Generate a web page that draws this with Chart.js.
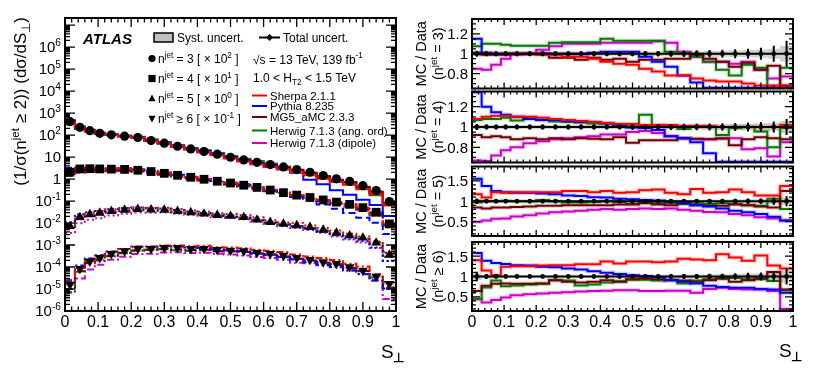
<!DOCTYPE html>
<html>
<head>
<meta charset="utf-8">
<title>S_perp in n-jet bins</title>
<script src="https://cdn.jsdelivr.net/npm/chart.js@4.4.1/dist/chart.umd.min.js"></script>
<style>
  html, body { margin: 0; padding: 0; background: #fff; }
  #wrap { position: relative; width: 814px; height: 386px; overflow: hidden; background: #fff; }
  #wrap canvas { position: absolute; top: 0; }
</style>
</head>
<body>
<div id="wrap">
  <canvas id="main" width="410" height="386" style="left:0"></canvas>
  <canvas id="r0" width="404" height="386" style="left:410px"></canvas>
  <canvas id="r1" width="404" height="386" style="left:410px"></canvas>
  <canvas id="r2" width="404" height="386" style="left:410px"></canvas>
  <canvas id="r3" width="404" height="386" style="left:410px"></canvas>
</div>
<script>
// ---- binning and labels ----
const binEdges = [0, 0.03, 0.06, 0.09, 0.12, 0.16, 0.20, 0.24, 0.28, 0.32, 0.36, 0.40, 0.44, 0.48,
                  0.52, 0.56, 0.60, 0.64, 0.68, 0.72, 0.76, 0.80, 0.84, 0.88, 0.92, 0.96, 1.0];
const xTickLabels = ['0', '0.1', '0.2', '0.3', '0.4', '0.5', '0.6', '0.7', '0.8', '0.9', '1'];
const logTickPowers = [-6, -5, -4, -3, -2, -1, 0, 1, 2, 3, 4, 5, 6];
const njetText = ['= 3', '= 4', '= 5', '\u2265 6'];
const njetScalePow = [2, 1, 0, -1];
const generators = ['Sherpa 2.1.1', 'Pythia 8.235', 'MG5_aMC 2.3.3', 'Herwig 7.1.3 (ang. ord)', 'Herwig 7.1.3 (dipole)'];
const genColors = ['#ff0000', '#0000ff', '#6e0000', '#007a00', '#cc00cc'];

// ---- unfolded data, (1/sigma) dsigma/dS_perp (unscaled) ----
const data3 = [4.07, 2.24, 1.58, 1.20, 1.02, 0.891, 0.776, 0.562, 0.427, 0.309, 0.234, 0.178, 0.135,
               0.0977, 0.0741, 0.0575, 0.0457, 0.0355, 0.0269, 0.0204, 0.0145, 0.0102, 0.00776, 0.00501, 0.00302, 0.00095];
const data4 = [0.204, 0.288, 0.295, 0.288, 0.282, 0.275, 0.251, 0.219, 0.182, 0.148, 0.120, 0.0977, 0.0794,
               0.0661, 0.0525, 0.0417, 0.0316, 0.0240, 0.0186, 0.0145, 0.0112, 0.00891, 0.00708, 0.00501, 0.00309, 0.000912];
const data5 = [0.00708, 0.0182, 0.0245, 0.0288, 0.0347, 0.0398, 0.0427, 0.0407, 0.0398, 0.0347, 0.0302, 0.0263, 0.0229,
               0.0209, 0.0182, 0.0141, 0.0110, 0.00912, 0.00776, 0.00646, 0.00490, 0.00355, 0.00269, 0.00214, 0.00126, 0.000355];
const data6 = [0.000158, 0.000832, 0.00182, 0.00263, 0.00398, 0.00525, 0.00676, 0.00676, 0.00741, 0.00741, 0.00676, 0.00676, 0.00603,
               0.00562, 0.00525, 0.00447, 0.00398, 0.00331, 0.00263, 0.00214, 0.00166, 0.00141, 0.00100, 0.000692, 0.000372, 0.000174];

// relative total and systematic uncertainties
const err3 = [0.03, 0.025, 0.025, 0.025, 0.025, 0.025, 0.025, 0.025, 0.025, 0.025, 0.025, 0.025, 0.025,
              0.026, 0.027, 0.028, 0.03, 0.032, 0.034, 0.037, 0.04, 0.045, 0.05, 0.06, 0.08, 0.13];
const syst3 = [0.025, 0.02, 0.02, 0.02, 0.02, 0.02, 0.02, 0.02, 0.02, 0.02, 0.02, 0.02, 0.02,
               0.021, 0.022, 0.023, 0.024, 0.025, 0.026, 0.028, 0.03, 0.032, 0.035, 0.04, 0.05, 0.08];
const err4 = [0.03, 0.025, 0.025, 0.025, 0.025, 0.025, 0.025, 0.025, 0.025, 0.025, 0.025, 0.025, 0.025,
              0.026, 0.027, 0.028, 0.03, 0.031, 0.033, 0.035, 0.037, 0.04, 0.045, 0.05, 0.055, 0.08];
const syst4 = [0.025, 0.02, 0.02, 0.02, 0.02, 0.02, 0.02, 0.02, 0.02, 0.02, 0.02, 0.02, 0.02,
               0.021, 0.022, 0.023, 0.024, 0.025, 0.026, 0.027, 0.028, 0.03, 0.033, 0.036, 0.04, 0.06];
const err5 = [0.07, 0.045, 0.04, 0.04, 0.04, 0.04, 0.04, 0.04, 0.04, 0.04, 0.04, 0.04, 0.04,
              0.04, 0.04, 0.042, 0.045, 0.048, 0.05, 0.052, 0.055, 0.06, 0.065, 0.07, 0.09, 0.12];
const syst5 = [0.05, 0.035, 0.03, 0.03, 0.03, 0.03, 0.03, 0.03, 0.03, 0.03, 0.03, 0.03, 0.03,
               0.03, 0.03, 0.032, 0.034, 0.036, 0.038, 0.04, 0.042, 0.045, 0.05, 0.055, 0.07, 0.09];
const err6 = [0.12, 0.06, 0.05, 0.045, 0.04, 0.04, 0.04, 0.04, 0.04, 0.04, 0.04, 0.04, 0.04,
              0.045, 0.045, 0.05, 0.05, 0.055, 0.06, 0.065, 0.07, 0.08, 0.09, 0.1, 0.12, 0.2];
const syst6 = [0.09, 0.045, 0.04, 0.035, 0.03, 0.03, 0.03, 0.03, 0.03, 0.03, 0.03, 0.03, 0.03,
               0.035, 0.035, 0.04, 0.04, 0.042, 0.045, 0.05, 0.055, 0.06, 0.07, 0.08, 0.09, 0.15];

// ---- MC / Data ratios ----
const sherpa3 = [1.0, 1.0, 1.0, 1.0, 1.0, 1.0, 0.99, 0.99, 0.97, 0.97, 0.95, 0.92, 0.90, 0.89, 0.85, 0.82, 0.78, 0.78, 0.75, 0.73, 0.72, 0.72, 0.70, 0.68, 0.68, 0.67];
const pythia3 = [1.15, 1.01, 1.0, 1.0, 1.0, 1.0, 1.0, 1.0, 1.0, 1.0, 1.01, 1.02, 1.02, 1.02, 0.97, 0.92, 0.87, 0.78, 0.71, 0.45, 0.40, 0.30, 0.25, 0.23, 0.22, 0.22];
const mg5_3 = [1.01, 0.99, 0.99, 0.99, 1.0, 1.0, 1.0, 0.96, 0.96, 0.94, 0.96, 0.94, 0.95, 0.92, 0.94, 0.94, 0.95, 0.95, 0.99, 0.95, 0.92, 0.87, 0.91, 0.84, 0.88, 0.68];
const hwAng3 = [1.075, 1.10, 1.10, 1.09, 1.08, 1.08, 1.08, 1.11, 1.115, 1.115, 1.115, 1.15, 1.13, 1.13, 1.13, 1.13, 1.02, 1.01, 0.97, 0.92, 0.84, 0.78, 0.89, 0.86, 0.60, 0.86];
const hwDip3 = [0.85, 0.84, 0.89, 0.95, 0.99, 1.0, 1.04, 1.075, 1.10, 1.10, 1.10, 1.11, 1.11, 1.11, 1.11, 1.125, 1.11, 1.02, 0.97, 0.92, 0.92, 0.90, 0.92, 0.84, 0.75, 0.77];

const sherpa4 = [1.08, 1.10, 1.11, 1.11, 1.10, 1.10, 1.09, 1.08, 1.07, 1.06, 1.05, 1.04, 1.03, 1.03, 1.02, 1.02, 1.02, 1.01, 1.01, 1.01, 1.0, 1.0, 1.0, 1.0, 1.0, 1.02];
const pythia4 = [1.6, 1.2, 1.145, 1.12, 1.10, 1.08, 1.07, 1.07, 1.06, 1.05, 1.05, 1.035, 1.01, 0.995, 0.99, 0.97, 0.91, 0.89, 0.85, 0.74, 0.62, 0.50, 0.40, 0.35, 0.33, 0.35];
const mg5_4 = [0.92, 0.90, 0.91, 0.90, 0.88, 0.89, 0.88, 0.89, 0.88, 0.89, 0.885, 0.88, 0.90, 0.845, 0.87, 0.87, 0.87, 0.89, 0.885, 0.88, 0.89, 0.82, 0.88, 0.90, 0.89, 0.88];
const hwAng4 = [1.07, 1.08, 1.08, 1.09, 1.065, 1.09, 1.07, 1.055, 1.05, 1.045, 1.035, 1.035, 1.025, 1.025, 1.12, 1.02, 1.0, 0.98, 1.01, 1.0, 0.92, 0.99, 1.0, 0.955, 0.80, 0.99];
const hwDip4 = [0.67, 0.665, 0.72, 0.77, 0.80, 0.84, 0.86, 0.88, 0.89, 0.90, 0.91, 0.925, 0.925, 0.95, 0.96, 0.94, 0.91, 0.89, 0.88, 0.88, 0.885, 0.89, 0.78, 0.79, 0.71, 0.85];

const sherpa5 = [1.17, 1.09, 1.22, 1.21, 1.22, 1.22, 1.22, 1.22, 1.25, 1.25, 1.22, 1.25, 1.21, 1.22, 1.27, 1.29, 1.21, 1.17, 1.30, 1.21, 1.22, 1.29, 1.22, 1.14, 1.14, 1.37];
const pythia5 = [1.55, 1.37, 1.25, 1.22, 1.21, 1.21, 1.19, 1.17, 1.14, 1.13, 1.10, 1.09, 1.06, 1.05, 1.03, 1.02, 0.99, 0.95, 0.90, 0.87, 0.82, 0.77, 0.73, 0.69, 0.62, 0.53];
const mg5_5 = [0.85, 0.82, 0.85, 0.85, 0.86, 0.87, 0.89, 0.89, 0.90, 0.90, 0.90, 0.90, 0.92, 0.92, 0.95, 0.92, 0.90, 0.95, 0.90, 0.89, 0.89, 0.92, 0.90, 0.87, 0.85, 1.25];
const hwAng5 = [0.97, 1.0, 1.0, 1.01, 1.0, 1.0, 1.03, 1.0, 0.97, 0.97, 0.98, 1.0, 0.98, 0.93, 0.97, 0.95, 0.95, 0.93, 0.95, 0.93, 0.95, 0.93, 0.90, 0.89, 1.06, 0.81];
const hwDip5 = [0.50, 0.53, 0.57, 0.58, 0.63, 0.66, 0.70, 0.73, 0.75, 0.77, 0.79, 0.81, 0.79, 0.81, 0.82, 0.81, 0.82, 0.79, 0.77, 0.74, 0.73, 0.69, 0.66, 0.61, 0.58, 0.53];

const sherpa6 = [1.40, 1.15, 1.03, 1.24, 1.25, 1.25, 1.27, 1.28, 1.28, 1.30, 1.30, 1.37, 1.32, 1.37, 1.37, 1.35, 1.37, 1.44, 1.42, 1.40, 1.55, 1.47, 1.39, 1.52, 1.27, 1.20];
const pythia6 = [1.58, 1.39, 1.33, 1.31, 1.28, 1.27, 1.24, 1.23, 1.20, 1.17, 1.13, 1.09, 1.06, 1.03, 1.01, 0.98, 0.91, 0.87, 0.83, 0.77, 0.74, 0.72, 0.72, 0.69, 0.68, 0.60];
const mg5_6 = [0.64, 0.77, 0.82, 0.83, 0.82, 0.82, 0.83, 0.91, 0.87, 0.85, 0.87, 0.91, 0.87, 0.93, 0.95, 0.93, 0.91, 0.90, 0.87, 0.91, 0.95, 0.87, 0.91, 0.95, 1.11, 0.68];
const hwAng6 = [0.45, 0.73, 0.90, 0.76, 0.78, 0.80, 0.82, 0.91, 0.90, 0.78, 0.80, 0.85, 0.88, 0.92, 0.92, 0.90, 0.92, 0.83, 0.90, 0.93, 0.95, 0.96, 0.93, 0.93, 0.89, 0.66];
const hwDip6 = [0.44, 0.36, 0.42, 0.48, 0.54, 0.56, 0.58, 0.60, 0.61, 0.63, 0.64, 0.65, 0.66, 0.66, 0.64, 0.64, 0.65, 0.65, 0.60, 0.69, 0.72, 0.69, 0.68, 0.68, 0.64, 0.20];

const dataByN = [data3, data4, data5, data6];
const errByN = [err3, err4, err5, err6];
const systByN = [syst3, syst4, syst5, syst6];
const ratiosByN = [
  [sherpa3, pythia3, mg5_3, hwAng3, hwDip3],
  [sherpa4, pythia4, mg5_4, hwAng4, hwDip4],
  [sherpa5, pythia5, mg5_5, hwAng5, hwDip5],
  [sherpa6, pythia6, mg5_6, hwAng6, hwDip6]
];

// ---- helpers ----
const FONT = '"Liberation Sans", Arial, Helvetica, sans-serif';
const font = (size, style) => (style ? style + ' ' : '') + size + 'px ' + FONT;
const centers = binEdges.slice(0, -1).map((e, i) => (e + binEdges[i + 1]) / 2);

function histPoints(vals) {
  const pts = vals.map((v, i) => ({ x: binEdges[i], y: v }));
  pts.push({ x: binEdges[binEdges.length - 1], y: vals[vals.length - 1] });
  return pts;
}

// text with superscripts (1) and subscripts (-1)
function rich(ctx, parts, x, y, size, align, style) {
  const sz = m => (m ? size * 0.68 : size);
  ctx.textBaseline = 'alphabetic';
  ctx.textAlign = 'left';
  let w = 0;
  for (const [t, m] of parts) { ctx.font = font(sz(m), style); w += ctx.measureText(t).width; }
  let cx = align === 'right' ? x - w : align === 'center' ? x - w / 2 : x;
  for (const [t, m] of parts) {
    ctx.font = font(sz(m), style);
    const dy = m === 1 ? -size * 0.42 : m === -1 ? size * 0.25 : 0;
    ctx.fillText(t, cx, y + dy);
    cx += ctx.measureText(t).width;
  }
  return w;
}

function shape(ctx, kind, x, y, r) {
  ctx.beginPath();
  if (kind === 'circle') ctx.arc(x, y, r, 0, Math.PI * 2);
  else if (kind === 'rect') ctx.rect(x - r, y - r, 2 * r, 2 * r);
  else if (kind === 'tri') { ctx.moveTo(x, y - r * 1.1); ctx.lineTo(x + r, y + r * 0.75); ctx.lineTo(x - r, y + r * 0.75); }
  else if (kind === 'itri') { ctx.moveTo(x, y + r * 1.1); ctx.lineTo(x + r, y - r * 0.75); ctx.lineTo(x - r, y - r * 0.75); }
  else if (kind === 'diamond') { ctx.moveTo(x, y - r); ctx.lineTo(x + r, y); ctx.lineTo(x, y + r); ctx.lineTo(x - r, y); }
  ctx.closePath();
  ctx.fill();
}

// "S" with a perpendicular subscript
function sPerp(ctx, x, y) {
  ctx.textAlign = 'left';
  ctx.textBaseline = 'alphabetic';
  ctx.font = font(19);
  ctx.fillText('S', x, y);
  const w = ctx.measureText('S').width;
  ctx.font = font(13, 'bold');
  ctx.fillText('\u22A5', x + w - 0.5, y + 4);
}

// inward ticks on all four sides, then the frame
function drawFrame(chart, t) {
  const { ctx, chartArea: a, scales: { x, y } } = chart;
  ctx.save();
  ctx.strokeStyle = '#000';
  ctx.lineWidth = 1.3;
  ctx.beginPath();
  for (let k = 0; k <= 50; k++) {
    const px = x.getPixelForValue(k * 0.02);
    const len = k % 5 === 0 ? t.xMajor : t.xMinor;
    ctx.moveTo(px, a.bottom); ctx.lineTo(px, a.bottom - len);
    ctx.moveTo(px, a.top); ctx.lineTo(px, a.top + len);
  }
  const yTick = (v, major) => {
    const py = y.getPixelForValue(v);
    if (py < a.top - 0.5 || py > a.bottom + 0.5) return;
    const len = major ? t.yMajor : t.yMinor;
    ctx.moveTo(a.left, py); ctx.lineTo(a.left + len, py);
    ctx.moveTo(a.right, py); ctx.lineTo(a.right - len, py);
  };
  if (t.log) {
    for (let p = -6; p <= 7; p++) for (let m = 1; m <= 9; m++) {
      const v = m * Math.pow(10, p);
      if (v >= y.min && v <= y.max) yTick(v, m === 1);
    }
  } else {
    const k0 = Math.ceil(y.min / t.minorStep - 1e-6), k1 = Math.floor(y.max / t.minorStep + 1e-6);
    for (let k = k0; k <= k1; k++) {
      const v = k * t.minorStep;
      const q = v / t.majorStep;
      yTick(v, Math.abs(q - Math.round(q)) < 1e-6);
    }
  }
  ctx.stroke();
  ctx.lineWidth = 2;
  ctx.strokeRect(a.left, a.top, a.right - a.left, a.bottom - a.top);
  ctx.restore();
}

// ---- main (distribution) panel ----
const markerStyle = ['circle', 'rect', 'triangle', 'triangle'];
const markerRadius = [4.6, 6.2, 5.6, 5.6];
const legendShape = ['circle', 'rect', 'tri', 'itri'];
const lineDash = [[], [7, 4], [2, 3], [7, 3, 2, 3]];

const mainSets = [];
dataByN.forEach((vals, n) => {
  const f = Math.pow(10, njetScalePow[n]);
  mainSets.push({
    data: vals.map((v, i) => ({ x: centers[i], y: v * f })),
    showLine: false, pointStyle: markerStyle[n], pointRadius: markerRadius[n],
    rotation: n === 3 ? 180 : 0, pointBackgroundColor: '#000', pointBorderColor: '#000', pointBorderWidth: 0
  });
});
dataByN.forEach((vals, n) => {
  const f = Math.pow(10, njetScalePow[n]);
  ratiosByN[n].forEach((r, g) => {
    mainSets.push({
      data: histPoints(vals.map((v, i) => v * r[i] * f)),
      stepped: true, borderColor: genColors[g], borderWidth: 2, borderDash: lineDash[n],
      pointRadius: 0, fill: false
    });
  });
});

const mainPlugin = {
  id: 'mainDecor',
  beforeDatasetsDraw(chart) {
    const { ctx, scales: { x, y } } = chart;
    ctx.save();
    ctx.fillStyle = 'rgba(170,170,170,0.7)';
    dataByN.forEach((vals, n) => {
      const f = Math.pow(10, njetScalePow[n]);
      vals.forEach((v, i) => {
        const x0 = x.getPixelForValue(binEdges[i]), x1 = x.getPixelForValue(binEdges[i + 1]);
        const s = systByN[n][i];
        const y0 = y.getPixelForValue(v * f * (1 + s)), y1 = y.getPixelForValue(v * f * (1 - s));
        ctx.fillRect(x0, y0, x1 - x0, Math.max(1, y1 - y0));
      });
    });
    ctx.restore();
  },
  afterDraw(chart) {
    const { ctx, chartArea: a, scales: { x, y } } = chart;
    drawFrame(chart, { log: true, xMajor: 9, xMinor: 4.5, yMajor: 10, yMinor: 5 });
    ctx.save();
    ctx.fillStyle = '#000';
    // y tick labels
    for (const p of logTickPowers) {
      const py = y.getPixelForValue(Math.pow(10, p));
      const parts = p === 0 ? [['1', 0]] : p === 1 ? [['10', 0]] : [['10', 0], [String(p), 1]];
      rich(ctx, parts, a.left - 4, py + 5.4, 15, 'right');
    }
    // x tick labels
    ctx.font = font(16);
    ctx.textAlign = 'center';
    ctx.textBaseline = 'alphabetic';
    xTickLabels.forEach((lab, k) => ctx.fillText(lab, x.getPixelForValue(k / 10), 327));
    // axis titles
    sPerp(ctx, 381, 358);
    ctx.save();
    ctx.translate(26, 17);
    ctx.rotate(-Math.PI / 2);
    rich(ctx, [['(1/\u03C3(n', 0], ['jet', 1], [' \u2265 2)) (d\u03C3/dS', 0], ['\u22A5', -1], [')', 0]], 0, 0, 17, 'right');
    ctx.restore();

    // legend block
    ctx.font = font(15, 'italic bold');
    ctx.textAlign = 'left';
    ctx.fillText('ATLAS', 83, 43.5);
    ctx.fillStyle = '#c0c0c0';
    ctx.fillRect(154, 33, 19, 9);
    ctx.strokeStyle = '#000';
    ctx.lineWidth = 1.5;
    ctx.strokeRect(154, 33, 19, 9);
    ctx.fillStyle = '#000';
    ctx.font = font(12);
    ctx.fillText('Syst. uncert.', 177, 42);
    ctx.lineWidth = 2;
    ctx.beginPath(); ctx.moveTo(259, 37.5); ctx.lineTo(280, 37.5); ctx.stroke();
    shape(ctx, 'diamond', 269.5, 37.5, 3.5);
    ctx.font = font(12);
    ctx.fillText('Total uncert.', 283, 42);

    const rowY = [58.5, 78.5, 98.5, 118.5];
    njetText.forEach((t, n) => {
      shape(ctx, legendShape[n], 152, rowY[n], 3.6);
      rich(ctx, [['n', 0], ['jet', 1], [' ' + t + ' [ \u00D7 10', 0], [String(njetScalePow[n]), 1], [' ]', 0]], 158, rowY[n] + 4.3, 12, 'left');
    });
    rich(ctx, [['\u221As = 13 TeV, 139 fb', 0], ['-1', 1]], 253, 63.5, 12, 'left');
    rich(ctx, [['1.0 < H', 0], ['T2', -1], [' < 1.5 TeV', 0]], 253, 81.5, 12, 'left');

    const genY = [95.5, 106, 117, 130.5, 143];
    generators.forEach((g, i) => {
      ctx.strokeStyle = genColors[i];
      ctx.lineWidth = 2;
      ctx.beginPath(); ctx.moveTo(252, genY[i]); ctx.lineTo(267, genY[i]); ctx.stroke();
      ctx.fillStyle = '#000';
      ctx.font = font(11.5);
      ctx.textAlign = 'left';
      ctx.fillText(g, 270, genY[i] + 4);
    });
    ctx.restore();
  }
};

new Chart(document.getElementById('main'), {
  type: 'line',
  data: { datasets: mainSets },
  options: {
    responsive: false, animation: false, devicePixelRatio: 1,
    layout: { padding: { left: 65, top: 18, right: 14, bottom: 75 } },
    plugins: { legend: { display: false }, tooltip: { enabled: false } },
    scales: {
      x: { type: 'linear', min: 0, max: 1, display: false },
      y: { type: 'logarithmic', min: 1e-6, max: 2.1e7, display: false }
    }
  },
  plugins: [mainPlugin]
});

// ---- ratio panels (canvas left edge sits at page x = 410) ----
const panels = [
  { top: 19, bottom: 88.5, min: 0.65, max: 1.35, majorStep: 0.2, minorStep: 0.05, labels: [0.8, 1, 1.2] },
  { top: 91.5, bottom: 162.5, min: 0.65, max: 1.35, majorStep: 0.2, minorStep: 0.05, labels: [0.8, 1, 1.2] },
  { top: 166.5, bottom: 236, min: 0.15, max: 1.85, majorStep: 0.5, minorStep: 0.1, labels: [0.5, 1, 1.5] },
  { top: 242, bottom: 311, min: 0.15, max: 1.85, majorStep: 0.5, minorStep: 0.1, labels: [0.5, 1, 1.5] }
];
const haloColors = ['rgba(255,0,0,0.18)', 'rgba(0,0,255,0.16)', 'rgba(110,0,0,0.16)', 'rgba(0,122,0,0.16)', 'rgba(204,0,204,0.18)'];

panels.forEach((pn, n) => {
  const pad = (pn.max - pn.min) * 0.012;
  const clampV = v => Math.min(pn.max - pad, Math.max(pn.min + pad, v));
  const sets = [];
  sets.push({ data: centers.map(c => ({ x: c, y: 1 })), showLine: false, pointRadius: 2.4,
              pointBackgroundColor: '#000', pointBorderWidth: 0 });
  sets.push({ data: [{ x: 0, y: 1 }, { x: 1, y: 1 }], borderColor: '#000', borderWidth: 2, pointRadius: 0 });
  ratiosByN[n].forEach((r, g) => {
    sets.push({ data: histPoints(r.map(clampV)), stepped: true, borderColor: genColors[g], borderWidth: 2, pointRadius: 0 });
  });
  ratiosByN[n].forEach((r, g) => {
    sets.push({ data: histPoints(r.map(clampV)), stepped: true, borderColor: haloColors[g], borderWidth: 4.5, pointRadius: 0 });
  });

  const plugin = {
    id: 'ratioDecor' + n,
    beforeDatasetsDraw(chart) {
      const { ctx, scales: { x, y } } = chart;
      ctx.save();
      ctx.fillStyle = '#cfcfcf';
      systByN[n].forEach((s, i) => {
        const x0 = x.getPixelForValue(binEdges[i]), x1 = x.getPixelForValue(binEdges[i + 1]);
        const y0 = y.getPixelForValue(1 + s), y1 = y.getPixelForValue(1 - s);
        ctx.fillRect(x0, y0, x1 - x0, y1 - y0);
      });
      ctx.restore();
    },
    afterDatasetsDraw(chart) {
      const { ctx, scales: { x, y } } = chart;
      ctx.save();
      ctx.strokeStyle = '#000';
      ctx.lineWidth = 2;
      ctx.beginPath();
      errByN[n].forEach((e, i) => {
        const px = x.getPixelForValue(centers[i]);
        ctx.moveTo(px, y.getPixelForValue(Math.min(pn.max, 1 + e)));
        ctx.lineTo(px, y.getPixelForValue(Math.max(pn.min, 1 - e)));
      });
      ctx.stroke();
      ctx.restore();
    },
    afterDraw(chart) {
      const { ctx, chartArea: a, scales: { x, y } } = chart;
      drawFrame(chart, { log: false, majorStep: pn.majorStep, minorStep: pn.minorStep,
                         xMajor: 6, xMinor: 3, yMajor: 8, yMinor: 4 });
      ctx.save();
      ctx.fillStyle = '#000';
      ctx.font = font(15);
      ctx.textAlign = 'right';
      ctx.textBaseline = 'alphabetic';
      pn.labels.forEach(v => ctx.fillText(v === 1 ? '1' : v.toFixed(1), a.left - 4, y.getPixelForValue(v) + 5.4));
      const yc = (a.top + a.bottom) / 2;
      ctx.save();
      ctx.translate(16, yc);
      ctx.rotate(-Math.PI / 2);
      rich(ctx, [['MC / Data', 0]], 0, 0, 14.5, 'center');
      ctx.restore();
      ctx.save();
      ctx.translate(33, yc);
      ctx.rotate(-Math.PI / 2);
      rich(ctx, [['(n', 0], ['jet', 1], [' ' + njetText[n] + ')', 0]], 0, 0, 14.5, 'center');
      ctx.restore();
      if (n === panels.length - 1) {
        ctx.font = font(16);
        ctx.textAlign = 'center';
        xTickLabels.forEach((lab, k) => ctx.fillText(lab, x.getPixelForValue(k / 10), 327));
        sPerp(ctx, 369, 357);
      }
      ctx.restore();
    }
  };

  new Chart(document.getElementById('r' + n), {
    type: 'line',
    data: { datasets: sets },
    options: {
      responsive: false, animation: false, devicePixelRatio: 1,
      layout: { padding: { left: 62, right: 21, top: pn.top, bottom: 386 - pn.bottom } },
      plugins: { legend: { display: false }, tooltip: { enabled: false } },
      scales: {
        x: { type: 'linear', min: 0, max: 1, display: false },
        y: { type: 'linear', min: pn.min, max: pn.max, display: false }
      }
    },
    plugins: [plugin]
  });
});
</script>
</body>
</html>
